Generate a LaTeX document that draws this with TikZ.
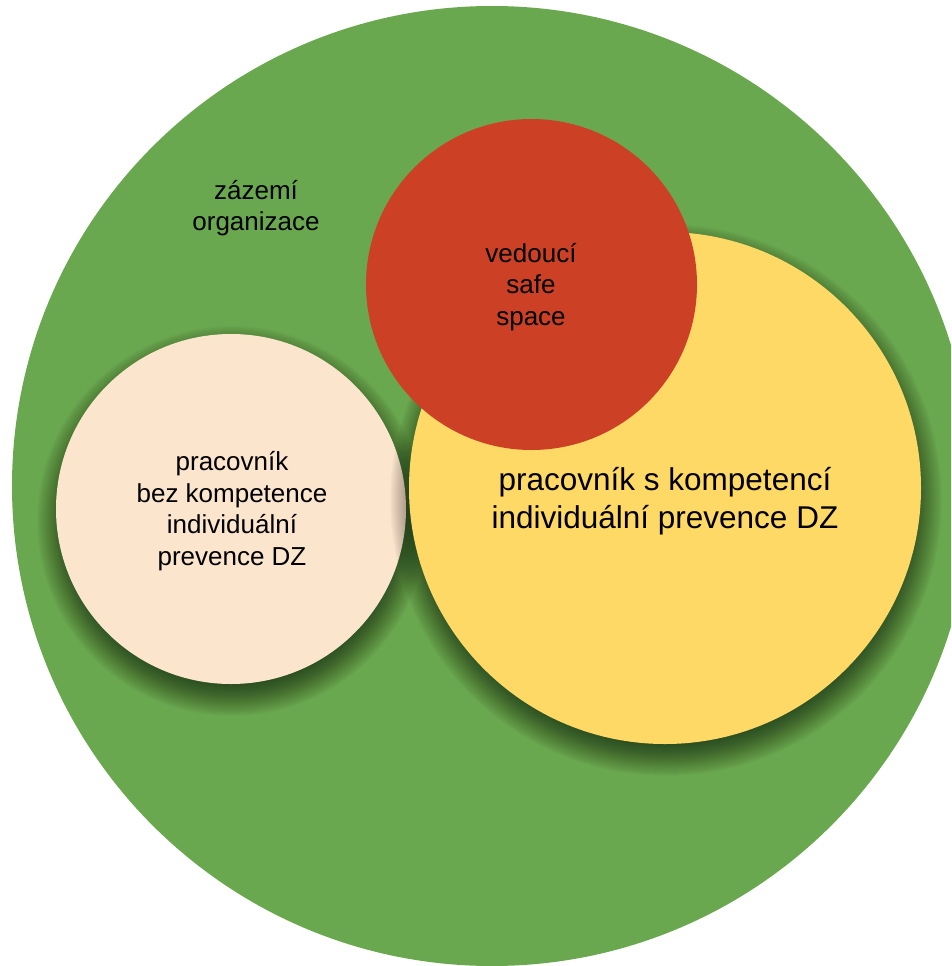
\documentclass[tikz,border=0pt]{standalone}
\usepackage{fontspec}
\setmainfont{Liberation Sans}
\definecolor{cgreen}{HTML}{6AA84F}
\definecolor{cyellow}{HTML}{FFD966}
\definecolor{cred}{HTML}{CC4125}
\definecolor{cpeach}{HTML}{FCE5CD}
\tikzset{
  disc/.style={circle, inner sep=0pt, draw=none},
  shadowlayer/.style={fill=black, opacity=0.02},
  smalltxt/.style={align=center, font=\fontsize{26}{31.5}\selectfont, text=black, inner sep=0pt},
  bigtxt/.style={align=center, font=\fontsize{31.5}{38}\selectfont, text=black, inner sep=0pt}
}
\newcommand{\softshade}[3]{%
  \foreach \i in {0,...,32}{%
    \fill[shadowlayer] (#1+1,#2+12) circle ({#3-12+\i});
  }%
}
\begin{document}
\begin{tikzpicture}[x=1pt, y=-1pt]
\useasboundingbox (0,0) rectangle (951,966);
\clip (0,0) rectangle (951,966);
\node[disc, fill=cgreen, minimum size=960pt] (org) at (492,486) {};
\softshade{231}{509}{175}
\node[disc, fill=cpeach, minimum size=350pt] (bez) at (231,509) {};
\softshade{665}{488}{256}
\node[disc, fill=cyellow, minimum size=512pt] (skomp) at (665,488) {};
\node[disc, fill=cred, minimum size=331pt] (ved) at (531.5,284.5) {};
\node[smalltxt] (torg) at (256,208) {zázemí\\organizace};
\node[smalltxt] (tbez) at (232,511) {pracovník\\bez kompetence\\individuální\\prevence DZ};
\node[smalltxt] (tved) at (531,287) {vedoucí\\safe\\space};
\node[bigtxt] (tskomp) at (665,501) {pracovník s kompetencí\\individuální prevence DZ};
\end{tikzpicture}
\end{document}
